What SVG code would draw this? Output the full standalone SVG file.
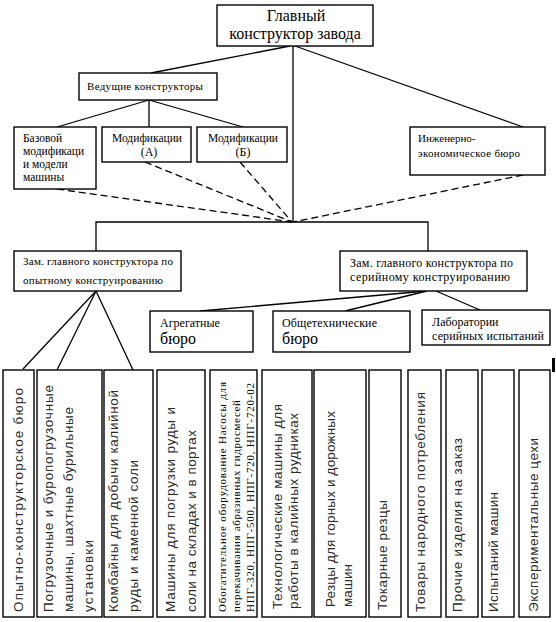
<svg xmlns="http://www.w3.org/2000/svg" width="556" height="622" viewBox="0 0 556 622">
<style>
.box{fill:#fff;stroke:#000;stroke-width:1.4}
.ln{stroke:#000;stroke-width:1.3;fill:none}
.dash{stroke:#000;stroke-width:1.3;fill:none;stroke-dasharray:7,4}
.s{font-family:"Liberation Serif","Times New Roman",serif;fill:#000}
.a{font-family:"Liberation Sans",Arial,sans-serif;fill:#2a2a2a;font-size:13.5px}
</style>
<rect width="556" height="622" fill="#fff"/>
<g id="connectors">
<line class="ln" x1="290" y1="46" x2="151" y2="73"/>
<line class="ln" x1="293" y1="46" x2="293" y2="222"/>
<line class="ln" x1="295" y1="46" x2="523" y2="127"/>
<line class="ln" x1="149" y1="100" x2="57" y2="127"/>
<line class="ln" x1="149" y1="100" x2="149" y2="127"/>
<line class="ln" x1="149" y1="100" x2="243" y2="127"/>
<polyline class="ln" points="96,251 96,222 428,222 428,251"/>
<line class="ln" x1="427" y1="291" x2="200" y2="311"/>
<line class="ln" x1="427" y1="291" x2="345" y2="311"/>
<line class="ln" x1="436" y1="291" x2="480" y2="310"/>
<line class="ln" x1="96" y1="291" x2="23" y2="369"/>
<line class="ln" x1="96" y1="291" x2="57" y2="370"/>
<line class="ln" x1="96" y1="291" x2="133" y2="370"/>
<line class="dash" x1="57" y1="189" x2="292" y2="222"/>
<line class="dash" x1="145" y1="162" x2="292" y2="222"/>
<line class="dash" x1="240" y1="162" x2="292" y2="222"/>
<line class="dash" x1="523" y1="175" x2="293" y2="222"/>
</g>
<g id="n-top">
<rect class="box" x="217" y="5" width="156" height="41"/>
<text class="s" font-size="16" x="296" y="21" text-anchor="middle">Главный</text>
<text class="s" font-size="16" x="295" y="39" text-anchor="middle">конструктор завода</text>
</g>
<g id="n-lead">
<rect class="box" x="79" y="73" width="138" height="27"/>
<text class="s" font-size="11" x="87" y="90" textLength="116">Ведущие конструкторы</text>
</g>
<g id="n-base">
<rect class="box" x="14" y="127" width="82" height="62"/>
<text class="s" font-size="11.5" x="23" y="142">Базовой</text>
<text class="s" font-size="11.5" x="23" y="155">модификаци</text>
<text class="s" font-size="11.5" x="23" y="168">и модели</text>
<text class="s" font-size="11.5" x="23" y="181">машины</text>
</g>
<g id="n-modA">
<rect class="box" x="102" y="127" width="89" height="35"/>
<text class="s" font-size="11.5" x="147" y="142" text-anchor="middle">Модификации</text>
<text class="s" font-size="12" x="149" y="156" text-anchor="middle">(А)</text>
</g>
<g id="n-modB">
<rect class="box" x="197" y="127" width="90" height="35"/>
<text class="s" font-size="11.5" x="243" y="142" text-anchor="middle">Модификации</text>
<text class="s" font-size="12" x="243" y="156" text-anchor="middle">(Б)</text>
</g>
<g id="n-eng">
<rect class="box" x="410" y="127" width="135" height="48"/>
<text class="s" font-size="11" x="418" y="142">Инженерно-</text>
<text class="s" font-size="11" x="418" y="157" textLength="102">экономическое бюро</text>
</g>
<g id="n-zam1">
<rect class="box" x="14" y="251" width="167" height="40"/>
<text class="s" font-size="11" x="23" y="265" textLength="150">Зам. главного конструктора по</text>
<text class="s" font-size="11" x="23" y="284" textLength="140">опытному конструированию</text>
</g>
<g id="n-zam2">
<rect class="box" x="340" y="251" width="187" height="40"/>
<text class="s" font-size="12" x="350" y="267" textLength="163">Зам. главного конструктора по</text>
<text class="s" font-size="12" x="350" y="281" textLength="160">серийному конструированию</text>
</g>
<g id="n-agr">
<rect class="box" x="150" y="311" width="103" height="41"/>
<text class="s" font-size="12" x="160" y="327">Агрегатные</text>
<text class="s" font-size="16" x="160" y="344">бюро</text>
</g>
<g id="n-obsh">
<rect class="box" x="273" y="311" width="137" height="41"/>
<text class="s" font-size="12" x="282" y="327" textLength="95">Общетехнические</text>
<text class="s" font-size="16" x="282" y="344">бюро</text>
</g>
<g id="n-lab">
<rect class="box" x="422" y="310" width="128" height="35"/>
<text class="s" font-size="12" x="432" y="326">Лаборатории</text>
<text class="s" font-size="12" x="432" y="340" textLength="112">серийных испытаний</text>
</g>
<rect x="552" y="358" width="3" height="14" fill="#000"/>
<g id="b1">
<rect class="box" x="3" y="370" width="31" height="247"/>
<text class="a" transform="translate(23,612) rotate(-90)" textLength="224">Опытно-конструкторское бюро</text>
</g>
<g id="b2">
<rect class="box" x="37" y="370" width="65" height="247"/>
<text class="a" transform="translate(53,612) rotate(-90)" textLength="227">Погрузочные и буропогрузочные</text>
<text class="a" transform="translate(73,612) rotate(-90)" textLength="205">машины, шахтные бурильные</text>
<text class="a" transform="translate(93,612) rotate(-90)" textLength="72">установки</text>
</g>
<g id="b3">
<rect class="box" x="104" y="370" width="49" height="247"/>
<text class="a" transform="translate(118,612) rotate(-90)" textLength="222">Комбайны для добычи калийной</text>
<text class="a" transform="translate(138,612) rotate(-90)" textLength="152">руды и каменной соли</text>
</g>
<g id="b4">
<rect class="box" x="157" y="370" width="48" height="247"/>
<text class="a" transform="translate(175,612) rotate(-90)" textLength="205">Машины для погрузки руды и</text>
<text class="a" transform="translate(196,612) rotate(-90)" textLength="182">соли на складах и в портах</text>
</g>
<g id="b5">
<rect class="box" x="210" y="370" width="47" height="247"/>
<text class="s" font-size="11" transform="translate(226,612) rotate(-90)" textLength="230">Обогатительное оборудование Насосы для</text>
<text class="s" font-size="11" transform="translate(240,612) rotate(-90)" textLength="212">перекачивания абразивных гидросмесей</text>
<text class="s" font-size="11" transform="translate(254,612) rotate(-90)" textLength="229">НПГ-320, НПГ-500, НПГ-720, НПГ-720-02</text>
</g>
<g id="b6">
<rect class="box" x="262" y="370" width="50" height="247"/>
<text class="a" transform="translate(282,609) rotate(-90)" textLength="205">Технологические машины для</text>
<text class="a" transform="translate(298,609) rotate(-90)" textLength="196">работы в калийных рудниках</text>
</g>
<g id="b7">
<rect class="box" x="314" y="370" width="52" height="247"/>
<text class="a" transform="translate(335,607) rotate(-90)" textLength="196">Резцы для горных и дорожных</text>
<text class="a" transform="translate(352,607) rotate(-90)" textLength="43">машин</text>
</g>
<g id="b8">
<rect class="box" x="369" y="370" width="32" height="247"/>
<text class="a" transform="translate(387,610) rotate(-90)" textLength="110">Токарные резцы</text>
</g>
<g id="b9">
<rect class="box" x="408" y="370" width="33" height="247"/>
<text class="a" transform="translate(425,612) rotate(-90)" textLength="220">Товары народного потребления</text>
</g>
<g id="b10">
<rect class="box" x="446" y="370" width="32" height="247"/>
<text class="a" transform="translate(462,612) rotate(-90)" textLength="174">Прочие изделия на заказ</text>
</g>
<g id="b11">
<rect class="box" x="482" y="370" width="32" height="247"/>
<text class="a" transform="translate(498,612) rotate(-90)" textLength="120">Испытаний машин</text>
</g>
<g id="b12">
<rect class="box" x="519" y="370" width="31" height="247"/>
<text class="a" transform="translate(538,612) rotate(-90)" textLength="174">Экспериментальные цехи</text>
</g>
</svg>
